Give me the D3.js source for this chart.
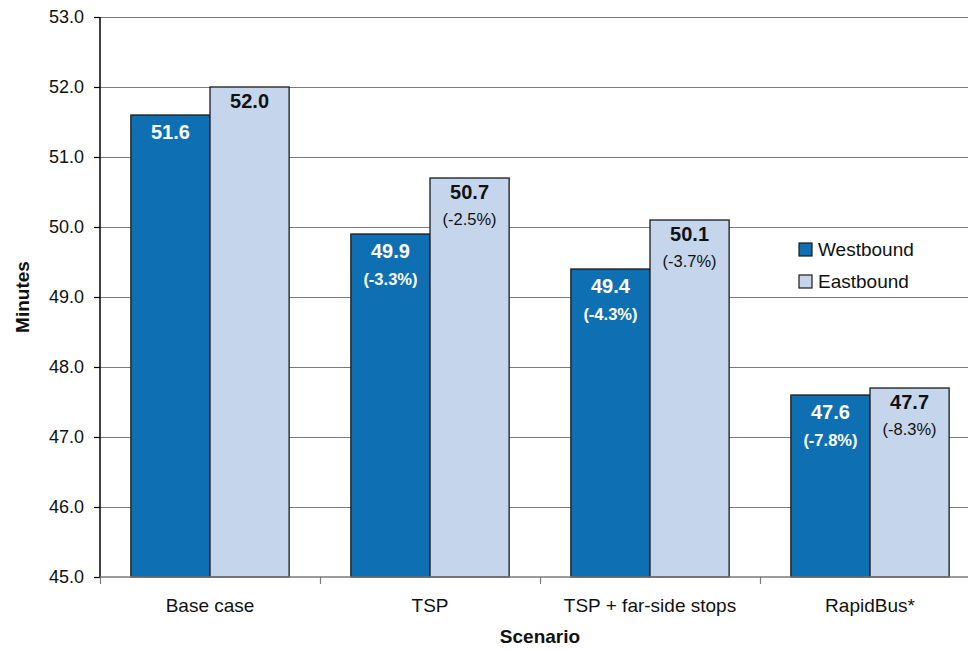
<!DOCTYPE html>
<html>
<head>
<meta charset="utf-8">
<script src="https://cdn.jsdelivr.net/npm/d3@7"></script>
<style>
  html, body { margin: 0; padding: 0; background: #fff; }
  svg { display: block; font-family: "Liberation Sans", Arial, sans-serif; }
</style>
</head>
<body>
<svg id="chart" width="968" height="650"></svg>
<script>
// Travel time by scenario and direction
const categories = ["Base case", "TSP", "TSP + far-side stops", "RapidBus*"];
const seriesNames = ["Westbound", "Eastbound"];
const westbound = [51.6, 49.9, 49.4, 47.6];
const eastbound = [52.0, 50.7, 50.1, 47.7];
const westChange = ["", "(-3.3%)", "(-4.3%)", "(-7.8%)"];
const eastChange = ["", "(-2.5%)", "(-3.7%)", "(-8.3%)"];
const yTicks = [45, 46, 47, 48, 49, 50, 51, 52, 53];

const colors = { Westbound: "#0F6FB3", Eastbound: "#C5D6EC" };
const labelColors = { Westbound: "#ffffff", Eastbound: "#111111" };

const svg = d3.select("#chart");
const margin = { left: 100, top: 17, right: -12, bottom: 73 };
const W = 968, H = 650;
const plotRight = W - margin.right;   // plot runs past the right edge
const plotBottom = H - margin.bottom;

const x = d3.scaleBand().domain(categories).range([margin.left, plotRight]).paddingInner(0).paddingOuter(0);
const inner = d3.scaleBand().domain(seriesNames).range([0, x.bandwidth()]).paddingInner(0).paddingOuter(0.39);
const y = d3.scaleLinear().domain([45, 53]).range([plotBottom, margin.top]);

// gridlines
svg.append("g").selectAll("line").data(yTicks.filter(d => d > 45)).join("line")
  .attr("x1", margin.left).attr("x2", plotRight)
  .attr("y1", d => Math.round(y(d)) + 0.5).attr("y2", d => Math.round(y(d)) + 0.5)
  .attr("stroke", "#7a7a7a").attr("stroke-width", 1.2);

const rows = categories.map((c, i) => ({
  cat: c,
  bars: [
    { s: "Westbound", v: westbound[i], pct: westChange[i] },
    { s: "Eastbound", v: eastbound[i], pct: eastChange[i] }
  ]
}));

const groups = svg.append("g").selectAll("g").data(rows).join("g")
  .attr("transform", d => `translate(${x(d.cat)},0)`);

groups.selectAll("rect").data(d => d.bars).join("rect")
  .attr("x", d => inner(d.s))
  .attr("width", inner.bandwidth())
  .attr("y", d => y(d.v))
  .attr("height", d => y(45) - y(d.v))
  .attr("fill", d => colors[d.s])
  .attr("stroke", "#1a1a1a").attr("stroke-width", 1.3);

groups.selectAll("text.val").data(d => d.bars).join("text")
  .attr("class", "val")
  .attr("x", d => inner(d.s) + inner.bandwidth() / 2)
  .attr("y", d => y(d.v) + (d.s === "Westbound" ? 24 : 21))
  .attr("text-anchor", "middle")
  .attr("font-size", 20).attr("font-weight", "bold")
  .attr("fill", d => labelColors[d.s])
  .text(d => d3.format(".1f")(d.v));

groups.selectAll("text.pct").data(d => d.bars.filter(b => b.pct)).join("text")
  .attr("class", "pct")
  .attr("x", d => inner(d.s) + inner.bandwidth() / 2)
  .attr("y", d => y(d.v) + (d.s === "Westbound" ? 51 : 47))
  .attr("text-anchor", "middle")
  .attr("font-size", 16.5)
  .attr("font-weight", d => d.s === "Westbound" ? "bold" : "normal")
  .attr("fill", d => labelColors[d.s])
  .text(d => d.pct);

// y axis
const yAxis = svg.append("g").attr("transform", `translate(${margin.left},0)`)
  .call(d3.axisLeft(y).tickValues(yTicks).tickFormat(d3.format(".1f")).tickSize(6).tickPadding(10));
yAxis.select(".domain").attr("stroke", "#000").attr("stroke-width", 1.5).attr("d", `M0,${margin.top}V${plotBottom}`);
yAxis.selectAll(".tick line").attr("stroke", "#000").attr("stroke-width", 1.2);
yAxis.selectAll(".tick text").attr("font-size", 18).attr("fill", "#111").attr("font-family", "Liberation Sans, Arial, sans-serif");

// x axis
const xAxis = svg.append("g").attr("transform", `translate(0,${plotBottom})`)
  .call(d3.axisBottom(x).tickSize(0).tickPadding(22));
xAxis.select(".domain").attr("stroke", "#7a7a7a").attr("stroke-width", 1.5).attr("d", `M${margin.left},0H${plotRight}`);
xAxis.selectAll(".tick text").attr("font-size", 19).attr("fill", "#111").attr("font-family", "Liberation Sans, Arial, sans-serif")
  .attr("dy", "0.71em");
// category separators
svg.append("g").selectAll("line").data(categories).join("line")
  .attr("x1", d => x(d) + 0.5).attr("x2", d => x(d) + 0.5)
  .attr("y1", plotBottom).attr("y2", plotBottom + 7)
  .attr("stroke", "#7a7a7a").attr("stroke-width", 1.2);

// axis titles
svg.append("text").attr("x", 540).attr("y", 643).attr("text-anchor", "middle")
  .attr("font-size", 19).attr("font-weight", "bold").attr("fill", "#111").text("Scenario");
svg.append("text").attr("transform", `translate(29,${(margin.top + plotBottom) / 2}) rotate(-90)`)
  .attr("text-anchor", "middle").attr("font-size", 19).attr("font-weight", "bold").attr("fill", "#111").text("Minutes");

// legend
const legend = svg.append("g").attr("transform", "translate(799,243)");
const li = legend.selectAll("g").data(seriesNames).join("g")
  .attr("transform", (d, i) => `translate(0,${i * 32})`);
li.append("rect").attr("width", 13).attr("height", 13)
  .attr("fill", d => colors[d]).attr("stroke", "#1a1a1a").attr("stroke-width", 1.2);
li.append("text").attr("x", 19).attr("y", 13).attr("font-size", 19).attr("fill", "#111").text(d => d);
</script>
</body>
</html>
